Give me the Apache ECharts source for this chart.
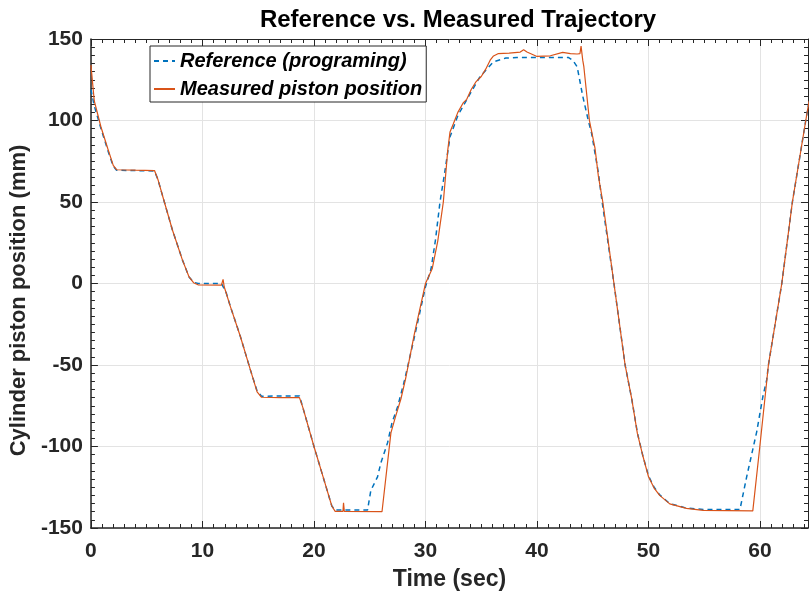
<!DOCTYPE html>
<html>
<head>
<meta charset="utf-8">
<script src="https://cdn.jsdelivr.net/npm/echarts@6/dist/echarts.min.js"></script>
<style>
  html, body { margin: 0; padding: 0; background: #fff; }
  #chart { width: 809px; height: 596px; }
</style>
</head>
<body>
<div id="chart"></div>
<script>
// reference trajectory (blue dashed)
const refTime = [0, 0.3, 0.9, 1.5, 2.0, 2.3, 4.0, 5.7, 6.0, 6.5, 7.3, 8.2, 8.8, 9.2, 9.6, 11.7, 12.1, 12.5, 13.4, 14.3, 14.9, 15.3, 17.0, 18.7, 19.0, 20.0, 20.9, 21.6, 21.9, 24.8, 25.1, 25.7, 26.0, 26.6, 27.0, 27.5, 28.1, 29.0, 30.0, 30.5, 30.9, 31.3, 31.7, 32.2, 32.9, 33.8, 34.9, 36.1, 37.2, 38.2, 42.8, 43.2, 43.6, 44.1, 44.6, 44.9, 45.5, 45.8, 46.9, 47.9, 48.5, 49.0, 49.5, 50.0, 50.5, 51.0, 51.9, 53.4, 54.9, 58.2, 58.8, 59.7, 60.25, 60.6, 60.75, 61.95, 62.9, 64.1, 64.4];
const refPos = [119, 109, 95, 82, 72, 69.5, 69.3, 69, 64, 52, 33, 14.5, 4, 0.8, 0, 0, -5, -14, -32.5, -53, -66, -69.2, -69, -69, -76, -100, -120.5, -136.5, -139, -139, -127, -118.6, -110, -97.7, -85.4, -75.6, -60, -33, -2, 9, 27, 50, 67, 90, 103, 114, 127, 136, 138.3, 138.7, 138.7, 137, 133, 115, 100, 92, 68, 52, 0, -50, -71, -91.6, -106, -118, -125, -129.7, -135, -137.8, -138.6, -138.6, -118.6, -91, -69.5, -59, -50, 0, 50, 100, 112];

// measured piston position (orange solid)
const measTime = [0, 0.3, 0.9, 1.5, 2.0, 2.3, 4.0, 5.7, 6.0, 6.5, 7.3, 8.2, 8.8, 9.2, 9.6, 11.7, 11.85, 11.95, 12.5, 13.4, 14.3, 14.9, 15.3, 17.0, 18.7, 19.0, 20.0, 20.9, 21.6, 21.9, 22.6, 22.65, 22.72, 26.1, 26.9, 27.3, 27.8, 28.2, 29.0, 30.0, 30.6, 31.1, 31.6, 32.0, 32.2, 32.5, 32.9, 33.4, 33.7, 34.1, 34.5, 35.0, 35.4, 35.8, 36.1, 36.5, 37.5, 38.5, 38.8, 39.1, 40.0, 41.2, 42.3, 43.0, 43.6, 43.85, 43.95, 44.1, 44.2, 44.7, 45.2, 45.5, 45.9, 46.9, 47.9, 48.5, 49.0, 49.5, 50.0, 50.5, 51.0, 51.9, 53.4, 54.9, 59.35, 59.98, 60.6, 60.75, 61.95, 62.9, 64.1, 64.4];
const measPos = [134, 112, 96, 83, 72.5, 69.8, 69.5, 69.3, 64, 52, 33, 14.5, 4, 0.5, -0.8, -1, 2.5, -2, -14, -32.5, -53, -66.5, -69.8, -70, -70, -76, -100, -120.5, -136.5, -139.8, -139.8, -134.5, -139.8, -140, -91.6, -82, -70.7, -59, -31, 0, 9, 26, 50, 82, 93, 98, 105, 111, 113, 119, 123.5, 127, 131.5, 137, 139.6, 141, 141.3, 142, 143.4, 142, 139.3, 139.7, 141.8, 141, 140.8, 141, 145.6, 137, 133, 100, 83, 66, 50, 0, -50, -71, -92, -106, -118.6, -125.5, -130, -135.2, -138, -139.2, -139.5, -100, -60, -50, 0, 50, 100, 112];

const xTicks = [0, 10, 20, 30, 40, 50, 60];
const yTicks = [-150, -100, -50, 0, 50, 100, 150];

const seriesNames = ['Reference (programing)', 'Measured piston position'];

const chart = echarts.init(document.getElementById('chart'));

const FONT = '"Liberation Sans", Arial, Helvetica, sans-serif';
const INK = '#262626';

const baseTick = { show: true, inside: true, length: 7, lineStyle: { color: INK, width: 1 } };
const baseMinor = { show: true, splitNumber: 10, length: 4, lineStyle: { color: INK, width: 1 } };

const option = {
  animation: false,
  backgroundColor: '#fff',
  textStyle: { fontFamily: FONT },
  title: {
    text: 'Reference vs. Measured Trajectory',
    left: 453,
    top: 3,
    textAlign: 'center',
    textStyle: { fontFamily: FONT, fontSize: 24, fontWeight: 'bold', color: '#000' }
  },
  legend: {
    data: seriesNames,
    orient: 'vertical',
    left: 150,
    top: 46,
    itemWidth: 21,
    itemHeight: 16,
    itemGap: 8,
    padding: [5, 4, 3, 3],
    borderColor: INK,
    borderWidth: 1,
    backgroundColor: '#fff',
    itemStyle: { opacity: 0 },
    textStyle: { fontFamily: FONT, fontSize: 20, fontWeight: 'bold', fontStyle: 'italic', color: '#000' }
  },
  grid: { left: 90, right: 1, top: 39, bottom: 68 },
  xAxis: [
    {
      type: 'value',
      min: 0,
      max: 64.3,
      interval: 10,
      position: 'bottom',
      axisLine: { show: true, onZero: false, lineStyle: { color: INK, width: 1.5 } },
      axisTick: baseTick,
      minorTick: baseMinor,
      splitLine: { show: true, lineStyle: { color: '#e3e3e3', width: 1 } },
      axisLabel: {
        showMaxLabel: false,
        margin: 13,
        fontFamily: FONT, fontSize: 21, fontWeight: 'bold', color: INK,
        formatter: v => (xTicks.indexOf(v) >= 0 ? String(v) : '')
      },
      name: 'Time (sec)',
      nameLocation: 'middle',
      nameGap: 40,
      nameTextStyle: { fontFamily: FONT, fontSize: 23, fontWeight: 'bold', color: INK }
    },
    {
      type: 'value',
      min: 0,
      max: 64.3,
      interval: 10,
      position: 'top',
      axisLine: { show: true, onZero: false, lineStyle: { color: INK, width: 1 } },
      axisTick: baseTick,
      minorTick: baseMinor,
      splitLine: { show: false },
      axisLabel: { show: false }
    }
  ],
  yAxis: [
    {
      type: 'value',
      min: -150,
      max: 150,
      interval: 50,
      position: 'left',
      axisLine: { show: true, onZero: false, lineStyle: { color: INK, width: 1.5 } },
      axisTick: baseTick,
      minorTick: baseMinor,
      splitLine: { show: true, lineStyle: { color: '#e3e3e3', width: 1 } },
      axisLabel: {
        margin: 8,
        fontFamily: FONT, fontSize: 21, fontWeight: 'bold', color: INK,
        formatter: v => (yTicks.indexOf(v) >= 0 ? String(v) : '')
      },
      name: 'Cylinder piston position (mm)',
      nameLocation: 'middle',
      nameGap: 55,
      nameTextStyle: { fontFamily: FONT, fontSize: 22, fontWeight: 'bold', color: INK, padding: [0, 34, 0, 0] }
    },
    {
      type: 'value',
      min: -150,
      max: 150,
      interval: 50,
      position: 'right',
      axisLine: { show: true, onZero: false, lineStyle: { color: INK, width: 1 } },
      axisTick: baseTick,
      minorTick: baseMinor,
      splitLine: { show: false },
      axisLabel: { show: false }
    }
  ],
  series: [
    {
      name: seriesNames[0],
      type: 'line',
      showSymbol: false,
      symbol: 'none',
      data: refTime.map((t, i) => [t, refPos[i]]),
      lineStyle: { color: '#0072BD', width: 1.5, type: [5, 4] },
      itemStyle: { color: '#0072BD' },
      z: 2
    },
    {
      name: seriesNames[1],
      type: 'line',
      showSymbol: false,
      symbol: 'none',
      data: measTime.map((t, i) => [t, measPos[i]]),
      lineStyle: { color: '#D95319', width: 1.2 },
      itemStyle: { color: '#D95319' },
      z: 3
    }
  ]
};

chart.setOption(option);
</script>
</body>
</html>
